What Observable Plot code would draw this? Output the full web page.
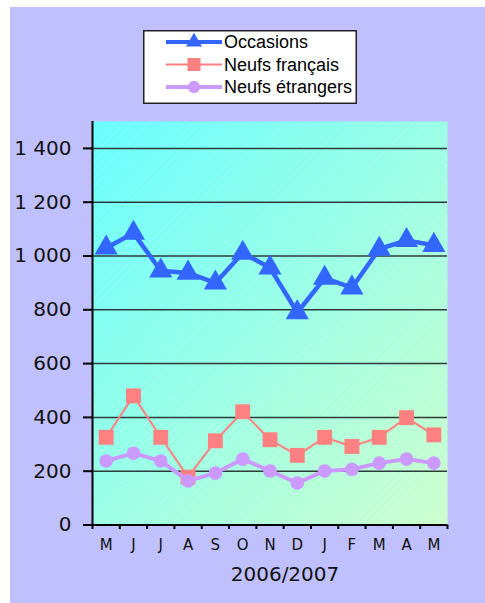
<!DOCTYPE html>
<html><head><meta charset="utf-8">
<script src="https://cdn.jsdelivr.net/npm/d3@7"></script>
<script src="https://cdn.jsdelivr.net/npm/@observablehq/plot@0.6"></script>
<style>
body{margin:0;background:#fff;width:485px;height:603px;overflow:hidden;position:relative;}
#panel{position:absolute;left:10px;top:7px;width:475px;height:596px;background:#C0C0FF;}
#legend{position:absolute;left:143px;top:30px;}
#chart{position:absolute;left:0;top:110px;}
</style></head><body>
<div id="panel"></div>
<div id="legend"></div>
<div id="chart"></div>
<script>
const months = ["M","J","J","A","S","O","N","D","J","F","M","A","M"];
const occasions = [1030, 1085, 945, 937, 900, 1011, 956, 790, 918, 882, 1026, 1058, 1040];
const neufsFrancais = [326, 480, 326, 178, 313, 421, 317, 259, 326, 292, 326, 399, 335];
const neufsEtrangers = [238, 267, 238, 164, 193, 245, 201, 156, 201, 207, 230, 245, 230];
const seriesNames = ["Occasions", "Neufs français", "Neufs étrangers"];
const yTicks = [0, 200, 400, 600, 800, 1000, 1200, 1400];
const xLabel = "2006/2007";

const colors = {occ: "#3366FF", fr: "#FF8080", et: "#CC99FF"};

const data = months.map((m, i) => ({i, m, occ: occasions[i], fr: neufsFrancais[i], et: neufsEtrangers[i]}));
const fmt = d3.formatLocale({decimal: ",", thousands: " ", grouping: [3], currency: ["", "€"]}).format(",");

const plot = Plot.plot({
  width: 485, height: 493,
  marginLeft: 92, marginRight: 38, marginTop: 11, marginBottom: 78.5,
  style: {background: "transparent", fontFamily: "DejaVu Sans, Verdana, sans-serif", overflow: "visible", color: "#111"},
  x: {domain: [-0.5, 12.5], axis: null, label: null},
  y: {domain: [0, 1500], axis: null, label: null},
  marks: [
    Plot.frame({fill: "url(#bgGrad)"}),
    Plot.frame({fill: "url(#hatch)"}),
    Plot.ruleY(yTicks.filter(d => d > 0), {stroke: "#2e3b3b", strokeWidth: 1.5}),
    Plot.axisY(yTicks, {tickSize: 9, tickPadding: 12, fontSize: 20, tickFormat: fmt, stroke: "#000", strokeWidth: 2, label: null}),
    Plot.axisX(d3.range(13), {tickSize: 0, tickPadding: 14, fontSize: 15, tickFormat: i => months[i], label: null}),
    Plot.axisX(d3.range(14).map(k => k - 0.5), {tickSize: 4.5, tickFormat: () => "", stroke: "#000", strokeWidth: 2, label: null}),
    Plot.ruleX([-0.5], {stroke: "#000", strokeWidth: 2}),
    Plot.ruleY([0], {stroke: "#000", strokeWidth: 2}),
    Plot.line(data, {x: "i", y: "fr", stroke: colors.fr, strokeWidth: 2}),
    Plot.dot(data, {x: "i", y: "fr", symbol: "square", r: 8.4, fill: colors.fr}),
    Plot.line(data, {x: "i", y: "et", stroke: colors.et, strokeWidth: 4}),
    Plot.dot(data, {x: "i", y: "et", r: 6.8, fill: colors.et}),
    Plot.line(data, {x: "i", y: "occ", stroke: colors.occ, strokeWidth: 4.5}),
    Plot.dot(data, {x: "i", y: "occ", symbol: "triangle", r: 8.6, fill: colors.occ}),
    Plot.text([xLabel], {frameAnchor: "bottom", dx: 15, dy: 56, fontSize: 20, fill: "#111"})
  ]
});

const svg = d3.select(plot);
const defs = svg.insert("defs", ":first-child");
const g = defs.append("linearGradient").attr("id", "bgGrad").attr("x1", 0).attr("y1", 0).attr("x2", 1).attr("y2", 1);
g.append("stop").attr("offset", 0).attr("stop-color", "#66FFFF");
g.append("stop").attr("offset", 1).attr("stop-color", "#CCFFCC");
const p = defs.append("pattern").attr("id", "hatch").attr("patternUnits", "userSpaceOnUse")
  .attr("width", 6).attr("height", 6).attr("patternTransform", "rotate(45)");
p.append("line").attr("x1", 0).attr("y1", 0).attr("x2", 0).attr("y2", 6)
  .attr("stroke", "#fff").attr("stroke-opacity", 0.3).attr("stroke-width", 1.2);
document.getElementById("chart").appendChild(plot);

// legend
const legendItems = [
  {name: seriesNames[0], color: colors.occ, width: 4, symbol: "triangle"},
  {name: seriesNames[1], color: colors.fr, width: 2, symbol: "square"},
  {name: seriesNames[2], color: colors.et, width: 4, symbol: "circle"}
];
const lw = 214, lh = 74;
const lsvg = d3.select("#legend").append("svg").attr("width", lw).attr("height", lh);
lsvg.append("rect").attr("x", 0.75).attr("y", 0.75).attr("width", lw - 1.5).attr("height", lh - 1.5)
  .attr("fill", "#fff").attr("stroke", "#222").attr("stroke-width", 1.5);
legendItems.forEach((it, k) => {
  const y = 12 + k * 22.5;
  const gi = lsvg.append("g");
  gi.append("line").attr("x1", 23).attr("x2", 79).attr("y1", y).attr("y2", y)
    .attr("stroke", it.color).attr("stroke-width", it.width);
  const sym = it.symbol === "triangle" ? d3.symbolTriangle : it.symbol === "square" ? d3.symbolSquare : d3.symbolCircle;
  const size = it.symbol === "triangle" ? 110 : it.symbol === "square" ? 170 : 120;
  gi.append("path").attr("d", d3.symbol(sym, size)()).attr("transform", `translate(51,${y})`).attr("fill", it.color);
  gi.append("text").attr("x", 81).attr("y", y).attr("dy", "0.35em").text(it.name)
    .attr("font-family", "Liberation Sans, Arial, sans-serif").attr("font-size", 18).attr("fill", "#000");
});
</script>
</body></html>
